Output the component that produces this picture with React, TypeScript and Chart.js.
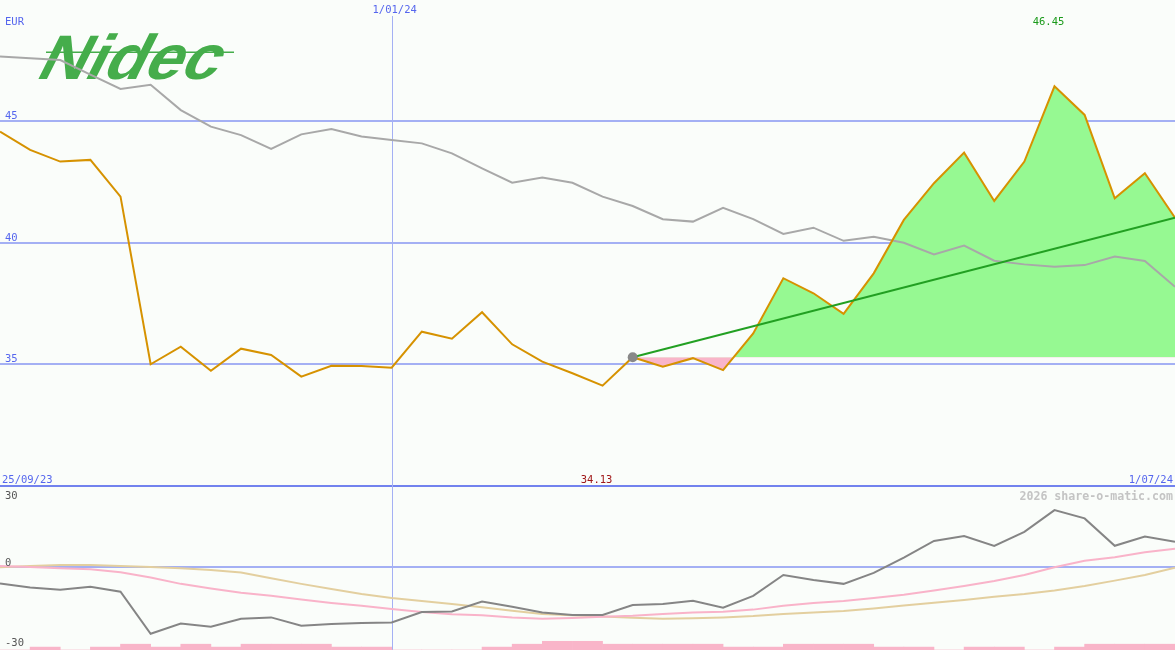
import { useEffect, useRef } from 'react';
import { Chart, registerables } from 'chart.js';

Chart.register(...registerables);

// ---------- data (weekly, index 0 = 2/10/23 ... index 39 = 1/07/24) ----------
const priceEUR = [
  44.58, 43.83, 43.35, 43.42, 41.91, 35.01, 35.73, 34.74, 35.65, 35.39,
  34.5, 34.95, 34.94, 34.87, 36.35, 36.06, 37.15, 35.83, 35.12, 34.64,
  34.13, 35.3, 34.91, 35.26, 34.77, 36.28, 38.55, 37.93, 37.08, 38.75,
  40.95, 42.46, 43.72, 41.73, 43.35, 46.45, 45.27, 41.84, 42.87, 41.04,
];
const movingAvgEUR = [
  47.67, 47.6, 47.53, 46.93, 46.34, 46.51, 45.47, 44.79, 44.44, 43.87,
  44.47, 44.69, 44.38, 44.24, 44.1, 43.69, 43.07, 42.48, 42.69, 42.48,
  41.91, 41.52, 40.98, 40.88, 41.45, 40.98, 40.37, 40.63, 40.09, 40.26,
  40.01, 39.53, 39.89, 39.27, 39.12, 39.02, 39.09, 39.44, 39.26, 38.2,
];
const oscMain = [
  -6.0, -7.5, -8.3, -7.2, -9.0, -24.7, -20.9, -22.1, -19.1, -18.6,
  -21.7, -21.1, -20.7, -20.5, -16.6, -16.4, -12.7, -14.6, -16.8, -17.7,
  -17.7, -14.0, -13.6, -12.4, -15.0, -10.6, -2.8, -4.7, -6.1, -2.0,
  3.7, 9.9, 11.7, 8.0, 13.3, 21.4, 18.3, 8.1, 11.5, 9.6,
];
const oscPink = [
  0.6, 0.2, -0.3, -0.7, -1.8, -3.7, -6.1, -7.8, -9.4, -10.5,
  -11.9, -13.2, -14.3, -15.5, -16.6, -17.4, -17.8, -18.6, -19.1, -18.8,
  -18.4, -18.0, -17.3, -16.8, -16.5, -15.7, -14.3, -13.2, -12.5, -11.4,
  -10.2, -8.6, -6.9, -5.0, -2.8, 0.1, 2.5, 3.8, 5.7, 7.0,
];
const oscTan = [
  0.1, 0.6, 0.9, 0.9, 0.6, 0.2, -0.3, -0.9, -1.9, -4.0,
  -6.1, -8.0, -9.9, -11.4, -12.5, -13.6, -14.8, -16.1, -17.3, -17.8,
  -18.3, -18.7, -19.1, -18.9, -18.6, -18.1, -17.3, -16.8, -16.2, -15.3,
  -14.2, -13.1, -12.1, -10.9, -9.9, -8.6, -6.9, -4.9, -2.8, -0.1,
];
// volume level for each week interval
const volumeLevel = [
  0, 1, 0, 1, 2, 1, 2, 1, 2, 2, 2, 1, 1, 0, 0, 0, 1, 2, 3, 3,
  2, 2, 2, 2, 1, 1, 2, 2, 2, 1, 1, 0, 1, 1, 0, 1, 2, 2, 2,
];
const trendIndex = [21, 39];
const trendValue = [35.3, 41.04];
const fillBaseline = 35.3;

const upperGridValues = [30, 35, 40, 45];
const upperTickLabels = ['35', '40', '45'];
const upperTickValues = [35, 40, 45];
const lowerGridValues = [0];
const lowerTickLabels = ['30', '0', '-30'];
const lowerTickValues = [30, 0, -30];
const currencyLabel = 'EUR';
const startDateLabel = '25/09/23';
const endDateLabel = '1/07/24';
const midDateLabel = '1/01/24';
const midDateIndex = 13;
const watermark = '2026 share-o-matic.com';
const logoText = 'Nidec';

const BLUE_TEXT = '#5566ee';
const GRID = '#a4b0f4';
const SEP = '#7282ee';

export default function App() {
  const ref = useRef<HTMLCanvasElement | null>(null);

  useEffect(() => {
    document.body.style.margin = '0';
    document.body.style.background = '#fafdfa';
    const canvas = ref.current;
    if (!canvas) return;

    const maxVal = Math.max(...priceEUR);
    const minVal = Math.min(...priceEUR);
    const maxIdx = priceEUR.indexOf(maxVal);
    const minIdx = priceEUR.indexOf(minVal);
    const fromIdx = trendIndex[0];

    const decor = {
      id: 'decor',
      beforeDraw(chart: any) {
        const { ctx, width, height } = chart;
        ctx.save();
        ctx.fillStyle = '#fafdfa';
        ctx.fillRect(0, 0, width, height);
        ctx.restore();
      },
      beforeDatasetsDraw(chart: any) {
        const { ctx, chartArea } = chart;
        const xs = chart.scales.x;
        const xm = Math.round(xs.getPixelForValue(midDateIndex)) + 0.5;
        ctx.save();
        ctx.strokeStyle = GRID;
        ctx.lineWidth = 1;
        ctx.beginPath();
        ctx.moveTo(xm, 16);
        ctx.lineTo(xm, chartArea.bottom);
        ctx.stroke();

        // logo
        ctx.fillStyle = '#45ad4b';
        ctx.font = 'bold 63px "Liberation Sans"';
        const w = ctx.measureText(logoText).width;
        const sx = 180 / w;
        ctx.save();
        ctx.translate(34, 79);
        ctx.transform(sx, 0, -0.5, 1, 0, 0);
        ctx.fillText(logoText, 0, 0);
        ctx.restore();
        ctx.fillRect(46, 51.5, 188, 1.5);
        ctx.restore();
      },
      afterDatasetsDraw(chart: any) {
        const { ctx } = chart;
        const xs = chart.scales.x;
        const ys = chart.scales.y;
        const y2 = chart.scales.y2;
        ctx.save();
        ctx.font = '10.5px "DejaVu Sans Mono"';
        ctx.textBaseline = 'alphabetic';
        ctx.fillStyle = BLUE_TEXT;
        ctx.textAlign = 'left';
        upperTickValues.forEach((v, i) => {
          ctx.fillText(upperTickLabels[i], 5, ys.getPixelForValue(v) - 2);
        });
        ctx.fillText(currencyLabel, 5, 25);
        ctx.fillText(startDateLabel, 2, 483);
        ctx.textAlign = 'right';
        ctx.fillText(endDateLabel, 1173, 483);
        ctx.textAlign = 'center';
        ctx.fillText(midDateLabel, xs.getPixelForValue(midDateIndex) + 3, 13);

        ctx.fillStyle = '#1a9a1a';
        ctx.fillText(maxVal.toFixed(2), xs.getPixelForValue(maxIdx) - 6, 25);
        ctx.fillStyle = '#a01818';
        ctx.fillText(minVal.toFixed(2), xs.getPixelForValue(minIdx) - 6, 483);

        ctx.fillStyle = '#555555';
        ctx.textAlign = 'left';
        lowerTickValues.forEach((v, i) => {
          const p = y2.getPixelForValue(v);
          const yy = v > 0 ? p + 12.5 : p - 1.5;
          ctx.fillText(lowerTickLabels[i], 5, yy);
        });

        ctx.font = 'bold 11.6px "DejaVu Sans Mono"';
        ctx.fillStyle = '#c4c4c4';
        ctx.textAlign = 'right';
        ctx.fillText(watermark, 1173, 500);
        ctx.restore();
      },
    };

    const toXY = (arr: number[]) => arr.map((v, i) => ({ x: i, y: v }));

    const chart = new Chart(canvas, {
      type: 'line',
      data: {
        datasets: [
          {
            label: 'anchor',
            data: [{ x: trendIndex[0], y: trendValue[0] }],
            showLine: false,
            pointRadius: 5,
            pointBackgroundColor: '#888888',
            pointBorderWidth: 0,
            borderColor: '#888888',
            order: 0,
          },
          {
            label: 'trend',
            data: trendIndex.map((x, i) => ({ x, y: trendValue[i] })),
            borderColor: '#22a022',
            borderWidth: 2,
            pointRadius: 0,
            order: 1,
          },
          {
            label: 'price',
            data: toXY(priceEUR),
            borderColor: '#d69200',
            borderWidth: 2,
            pointRadius: 0,
            order: 2,
          },
          {
            label: 'ma',
            data: toXY(movingAvgEUR),
            borderColor: '#a8a8a8',
            borderWidth: 2,
            pointRadius: 0,
            order: 3,
          },
          {
            label: 'fill',
            data: priceEUR.slice(fromIdx).map((v, k) => ({ x: fromIdx + k, y: v })),
            borderWidth: 0,
            borderColor: 'rgba(0,0,0,0)',
            pointRadius: 0,
            fill: { target: { value: fillBaseline }, above: '#96f992', below: '#f9b5c9' },
            order: 4,
          },
          {
            label: 'osc',
            data: toXY(oscMain),
            yAxisID: 'y2',
            borderColor: '#858585',
            borderWidth: 2,
            pointRadius: 0,
            order: 5,
          },
          {
            label: 'oscPink',
            data: toXY(oscPink),
            yAxisID: 'y2',
            borderColor: '#f9b3c9',
            borderWidth: 2,
            pointRadius: 0,
            order: 6,
          },
          {
            label: 'oscTan',
            data: toXY(oscTan),
            yAxisID: 'y2',
            borderColor: '#e3cf9f',
            borderWidth: 2,
            pointRadius: 0,
            order: 7,
          },
          {
            type: 'bar',
            label: 'volume',
            data: volumeLevel.map((v, i) => ({ x: i + 0.5, y: v })),
            yAxisID: 'yv',
            backgroundColor: '#f9b5c9',
            borderWidth: 0,
            barPercentage: 1,
            categoryPercentage: 1,
            order: 9,
          } as any,
        ],
      },
      options: {
        responsive: false,
        animation: false,
        layout: { padding: 0, autoPadding: false },
        elements: { line: { tension: 0 } },
        plugins: { legend: { display: false }, tooltip: { enabled: false } },
        scales: {
          x: { type: 'linear', min: 0, max: 39, offset: false, display: false },
          y: {
            type: 'linear',
            min: 23.25,
            max: 50,
            position: 'left',
            ticks: { display: false },
            border: { display: false },
            grid: {
              drawTicks: false,
              lineWidth: 2,
              color: (c: any) => (c.tick && c.tick.value === 30 ? SEP : GRID),
            },
            afterBuildTicks: (s: any) => {
              s.ticks = upperGridValues.map((value) => ({ value }));
            },
          },
          y2: {
            type: 'linear',
            min: -30.75,
            max: 211.5,
            position: 'left',
            ticks: { display: false },
            border: { display: false },
            grid: { drawTicks: false, lineWidth: 2, color: GRID },
            afterBuildTicks: (s: any) => {
              s.ticks = lowerGridValues.map((value) => ({ value }));
            },
          },
          yv: { type: 'linear', min: 0, max: 224, display: false },
        },
      },
      plugins: [decor],
    } as any);

    return () => chart.destroy();
  }, []);

  return <canvas ref={ref} width={1175} height={650} style={{ display: 'block' }} />;
}
